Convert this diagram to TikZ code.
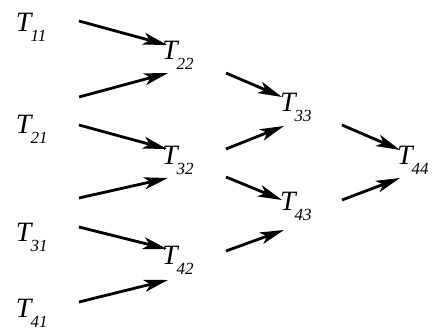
\documentclass[tikz,border=0pt]{standalone}
\usepackage{fontspec}
\setmainfont{Liberation Serif}
\usetikzlibrary{arrows.meta}
\newcommand\Tlab[1]{\fontsize{28}{28}\selectfont\itshape T\kern-1pt\raisebox{-10pt}{\fontsize{17}{17}\selectfont\itshape #1}}
\tikzset{
  lab/.style={anchor=base west, inner sep=0pt, outer sep=0pt},
  arr/.style={line width=2.8pt, -{Stealth[length=24pt,width=12pt,inset=6pt]}}
}
\begin{document}
\begin{tikzpicture}[x=1pt,y=-1pt]
\useasboundingbox (0,0) rectangle (432,331);
% labels
\node[lab] (T11) at (16,32) {\Tlab{11}};
\node[lab] (T21) at (16,134) {\Tlab{21}};
\node[lab] (T31) at (16,242) {\Tlab{31}};
\node[lab] (T41) at (16,318) {\Tlab{41}};
\node[lab] (T22) at (162,60) {\Tlab{22}};
\node[lab] (T32) at (162,165) {\Tlab{32}};
\node[lab] (T42) at (162,265) {\Tlab{42}};
\node[lab] (T33) at (280,112) {\Tlab{33}};
\node[lab] (T43) at (280,211) {\Tlab{43}};
\node[lab] (T44) at (397,165) {\Tlab{44}};
% arrow ends
\coordinate (a1s) at (79,21);  \coordinate (a1e) at (167,45);
\coordinate (a2s) at (79,97);  \coordinate (a2e) at (168,73);
\coordinate (a3s) at (79,125); \coordinate (a3e) at (167,149);
\coordinate (a4s) at (79,198); \coordinate (a4e) at (168,178);
\coordinate (a5s) at (79,227); \coordinate (a5e) at (167,249);
\coordinate (a6s) at (79,302); \coordinate (a6e) at (168,280);
\coordinate (b1s) at (226,73);  \coordinate (b1e) at (282,97);
\coordinate (b2s) at (226,149); \coordinate (b2e) at (284,126);
\coordinate (b3s) at (226,177); \coordinate (b3e) at (282,200);
\coordinate (b4s) at (226,251); \coordinate (b4e) at (284,230);
\coordinate (c1s) at (342,125); \coordinate (c1e) at (400,150);
\coordinate (c2s) at (342,200); \coordinate (c2e) at (400,178);
\foreach \p in {a1,a2,a3,a4,a5,a6,b1,b2,b3,b4,c1,c2}
  \draw[arr] (\p s) -- (\p e);
\end{tikzpicture}
\end{document}
